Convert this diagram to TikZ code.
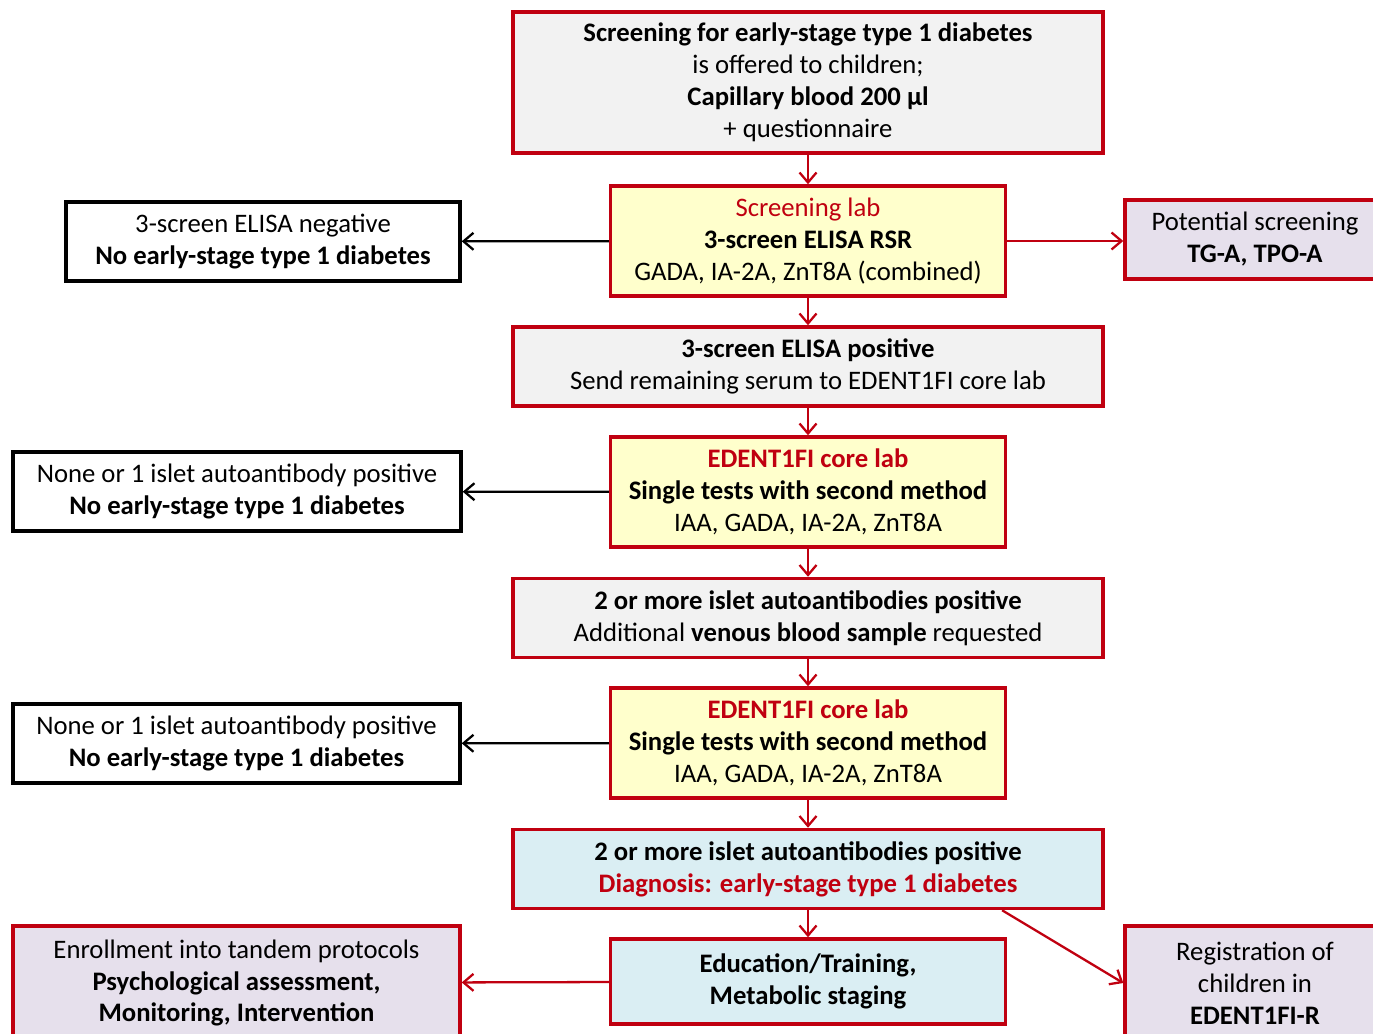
\documentclass[tikz,border=0pt]{standalone}
\usepackage{fontspec}
\setmainfont{Carlito}
\usetikzlibrary{arrows.meta}

\definecolor{boxred}{RGB}{192,0,16}
\definecolor{boxgray}{RGB}{242,242,242}
\definecolor{boxyellow}{RGB}{255,255,204}
\definecolor{boxblue}{RGB}{218,238,243}
\definecolor{boxlilac}{RGB}{230,224,236}

\tikzstyle{box} = [draw=boxred, line width=2pt, rectangle, align=center,
    font=\fontsize{15.2}{18.2}\selectfont, inner sep=0pt]
\tikzstyle{wide} = [box, fill=boxgray, minimum width=11.8cm, minimum height=1.58cm]
\tikzstyle{lab} = [box, fill=boxyellow, minimum width=7.9cm, minimum height=2.2cm]
\tikzstyle{outcome} = [box, draw=black, fill=white, minimum height=1.58cm]
\tikzstyle{side} = [box, fill=boxlilac, minimum width=5.2cm]
\tikzstyle{redarrow} = [draw=boxred, line width=1.3pt, ->]
\tikzstyle{blackarrow} = [draw=black, line width=1.3pt, ->]

\begin{document}
\begin{tikzpicture}[x=0.02cm, y=-0.02cm, >={Straight Barb[length=2mm,width=3.4mm]}]
      \useasboundingbox (0,0) rectangle (1373,1034);
      \node [wide, minimum height=2.82cm] (screen) at (808,82.5)
        {\textbf{Screening for early-stage type 1 diabetes}\\is offered to children;\\
         \textbf{Capillary blood 200 µl}\\+ questionnaire};
      \node [lab] (screenlab) at (808,241)
        {\textcolor{boxred}{Screening lab}\\\textbf{3-screen ELISA RSR}\\GADA, IA-2A, ZnT8A (combined)};
      \node [outcome, minimum width=7.88cm] (negative) at (263,241.5)
        {3-screen ELISA negative\\\textbf{No early-stage type 1 diabetes}};
      \node [side, minimum height=1.58cm] (thyroid) at (1255,239.5)
        {Potential screening\\\textbf{TG-A, TPO-A}};
      \node [wide] (positive) at (808,366.5)
        {\textbf{3-screen ELISA positive}\\Send remaining serum to EDENT1FI core lab};
      \node [lab] (corelab1) at (808,492)
        {\textcolor{boxred}{\textbf{EDENT1FI core lab}}\\\textbf{Single tests with second method}\\IAA, GADA, IA-2A, ZnT8A};
      \node [outcome, minimum width=8.96cm] (none1) at (237,491.5)
        {None or 1 islet autoantibody positive\\\textbf{No early-stage type 1 diabetes}};
      \node [wide] (venous) at (808,618)
        {\textbf{2 or more islet autoantibodies positive}\\Additional \textbf{venous blood sample} requested};
      \node [lab] (corelab2) at (808,743)
        {\textcolor{boxred}{\textbf{EDENT1FI core lab}}\\\textbf{Single tests with second method}\\IAA, GADA, IA-2A, ZnT8A};
      \node [outcome, minimum width=8.94cm] (none2) at (236.5,743.5)
        {None or 1 islet autoantibody positive\\\textbf{No early-stage type 1 diabetes}};
      \node [wide, fill=boxblue] (diagnosis) at (808,869)
        {\textbf{2 or more islet autoantibodies positive}\\\textcolor{boxred}{\textbf{Diagnosis: early-stage type 1 diabetes}}};
      \node [lab, fill=boxblue, minimum height=1.7cm] (education) at (808,981.5)
        {\textbf{Education/Training,}\\\textbf{Metabolic staging}};
      \node [side, minimum width=8.94cm, minimum height=2.28cm] (enrol) at (236.5,983)
        {Enrollment into tandem protocols\\\textbf{Psychological assessment,}\\\textbf{Monitoring, Intervention}};
      \node [side, minimum height=2.28cm] (registry) at (1255,983)
        {Registration of\\children in\\\textbf{EDENT1FI-R}};

      \draw [redarrow] (screen) -- (screenlab);
      \draw [blackarrow] (screenlab) -- (negative);
      \draw [redarrow] (screenlab) -- (thyroid.west |- screenlab);
      \draw [redarrow] (screenlab) -- (positive);
      \draw [redarrow] (positive) -- (corelab1);
      \draw [blackarrow] (corelab1) -- (none1);
      \draw [redarrow] (corelab1) -- (venous);
      \draw [redarrow] (venous) -- (corelab2);
      \draw [blackarrow] (corelab2) -- (none2);
      \draw [redarrow] (corelab2) -- (diagnosis);
      \draw [redarrow] (diagnosis) -- (education);
      \draw [redarrow] (diagnosis.-12) -- (registry.west);
      \draw [redarrow] (education) -- (enrol);
\end{tikzpicture}
\end{document}
